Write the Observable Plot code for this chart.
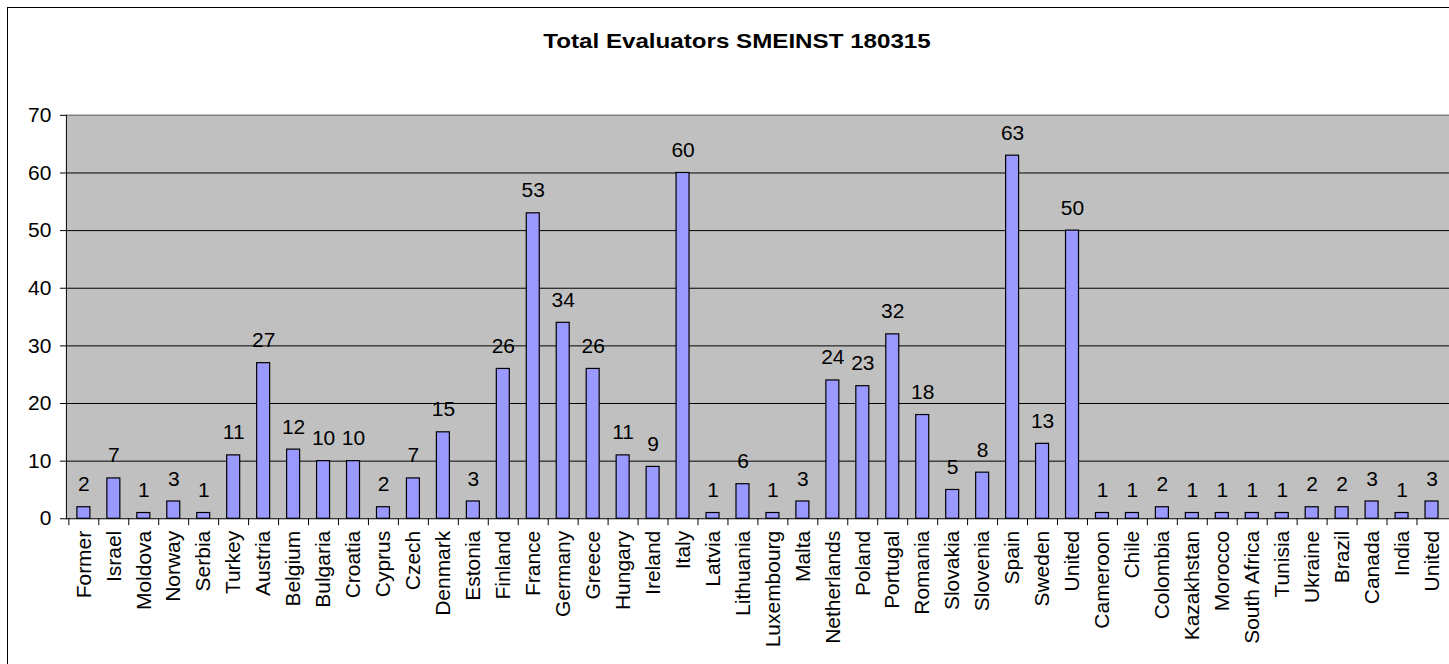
<!DOCTYPE html>
<html>
<head>
<meta charset="utf-8">
<script src="https://cdn.jsdelivr.net/npm/d3@7"></script>
<script src="https://cdn.jsdelivr.net/npm/@observablehq/plot@0.6"></script>
<style>
  html, body { margin: 0; padding: 0; background: #fff; overflow: hidden; }
  #wrap { position: relative; width: 1449px; height: 664px; overflow: hidden; }
  #chart { position: absolute; left: 0; top: 0; }
  #border { position: absolute; left: 7px; top: 7px; width: 1500px; height: 700px; border: 1px solid #000; pointer-events: none; }
  #title { position: absolute; top: 30px; left: 737px; transform: translateX(-50%) scaleX(1.15); font: bold 21px/21px "Liberation Sans", Arial, sans-serif; color: #000; white-space: nowrap; }
</style>
</head>
<body>
<div id="wrap">
  <div id="chart"></div>
  <div id="border"></div>
  <div id="title">Total Evaluators SMEINST 180315</div>
</div>
<script>
const countries = ["Former","Israel","Moldova","Norway","Serbia","Turkey","Austria","Belgium","Bulgaria","Croatia","Cyprus","Czech","Denmark","Estonia","Finland","France","Germany","Greece","Hungary","Ireland","Italy","Latvia","Lithuania","Luxembourg","Malta","Netherlands","Poland","Portugal","Romania","Slovakia","Slovenia","Spain","Sweden","United","Cameroon","Chile","Colombia","Kazakhstan","Morocco","South Africa","Tunisia","Ukraine","Brazil","Canada","India","United"];
const evaluators = [2,7,1,3,1,11,27,12,10,10,2,7,15,3,26,53,34,26,11,9,60,1,6,1,3,24,23,32,18,5,8,63,13,50,1,1,2,1,1,1,1,2,2,3,1,3];
const yTicks = [0,10,20,30,40,50,60,70];

const data = countries.map((c, i) => ({i, name: c, v: evaluators[i]}));

const W = 1451, ML = 66, MR = 0;
const step = (W - ML - MR) / countries.length;

const chart = Plot.plot({
  width: W,
  height: 664,
  marginLeft: ML,
  marginRight: MR,
  marginTop: 115,
  marginBottom: 145,
  style: {fontFamily: "'Liberation Sans', Arial, sans-serif", fontSize: "21px", color: "#000", background: "transparent", overflow: "visible"},
  x: {type: "band", domain: d3.range(countries.length), paddingInner: 0.55, paddingOuter: 0.275, axis: null},
  y: {domain: [0, 70], axis: null},
  marks: [
    Plot.frame({fill: "#c0c0c0", stroke: null}),
    Plot.ruleY(yTicks.filter(t => t > 0 && t < 70), {stroke: "#000", strokeWidth: 1}),
    Plot.ruleY([70], {stroke: "#808080", strokeWidth: 1.5}),
    Plot.axisY({ticks: yTicks, tickSize: 6, tickPadding: 9, label: null, fontSize: 21, stroke: "#000"}),
    Plot.frame({anchor: "left", stroke: "#000"}),
    Plot.barY(data, {x: "i", y: "v", fill: "#9999ff", stroke: "#000", strokeWidth: 1.2}),
    Plot.ruleY([0], {stroke: "#000", strokeWidth: 1}),
    Plot.ruleX(data, {x: "i", y1: 0, y2: -1.2, dx: -step / 2, stroke: "#000"}),
    Plot.text(data, {x: "i", y: "v", text: d => String(d.v), lineAnchor: "bottom", dy: -16, fontSize: 21, fill: "#000"}),
    Plot.axisX({tickFormat: i => countries[i], tickSize: 0, tickPadding: 12, tickRotate: -90, label: null, fontSize: 21})
  ]
});
document.getElementById("chart").appendChild(chart);
</script>
</body>
</html>
